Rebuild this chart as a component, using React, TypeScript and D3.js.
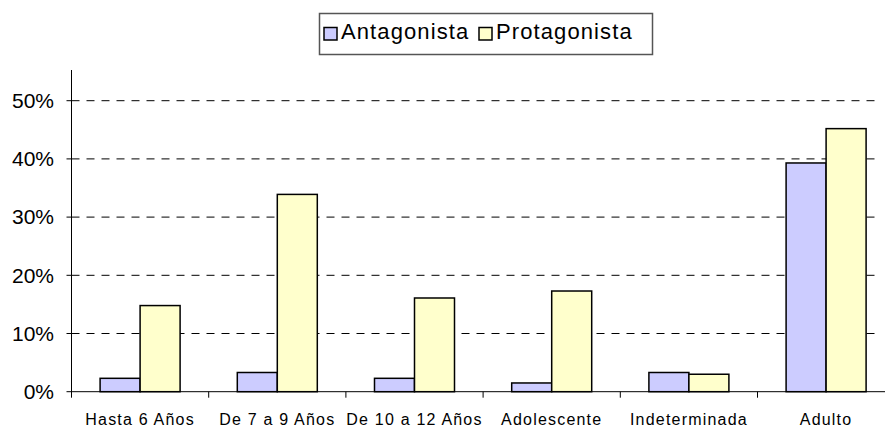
import React from 'react';
import * as d3 from 'd3';

const categories = ['Hasta 6 Años', 'De 7 a 9 Años', 'De 10 a 12 Años', 'Adolescente', 'Indeterminada', 'Adulto'];
const seriesNames = ['Antagonista', 'Protagonista'];
const antagonista = [2.3, 3.3, 2.3, 1.5, 3.3, 39.3];
const protagonista = [14.8, 33.9, 16.1, 17.3, 3.0, 45.2];
const yTicks = [0, 10, 20, 30, 40, 50];
const colors = ['#CCCCFF', '#FFFFCC'];

const W = 885;
const H = 427;
const left = 71.5;
const bottom = 391.7;
const font = 'Arial, "Liberation Sans", sans-serif';

const App = () => {
  const x = d3.scaleBand().domain(categories).range([left, left + 6 * 137.2]);
  const bw = x.bandwidth();
  const x1 = d3.scaleBand().domain(seriesNames).range([bw / 2 - 40, bw / 2 + 40]);
  const y = d3.scaleLinear().domain([0, 55]).range([bottom, 71.6]);
  const values = [antagonista, protagonista];

  return (
    <svg width={W} height={H} style={{ position: 'absolute', left: 0, top: 0, background: '#fff' }}>
      {/* grid */}
      {yTicks.filter(t => t > 0).map(t => (
        <line key={t} x1={left} x2={878} y1={y(t)} y2={y(t)} stroke="#000" strokeDasharray="8 7" strokeWidth={1} />
      ))}
      {/* bars */}
      {categories.map((c, i) => (
        <g key={c} transform={`translate(${x(c)},0)`}>
          {seriesNames.map((s, j) => (
            <rect key={s} x={x1(s)} y={y(values[j][i])} width={x1.bandwidth()} height={bottom - y(values[j][i])}
              fill={colors[j]} stroke="#000" strokeWidth={1.5} />
          ))}
        </g>
      ))}
      {/* y axis */}
      <line x1={left} x2={left} y1={70} y2={bottom + 5} stroke="#000" />
      {yTicks.map(t => (
        <g key={t}>
          <line x1={left - 5} x2={left} y1={y(t)} y2={y(t)} stroke="#000" />
          <text x={54} y={y(t)} dy="0.35em" textAnchor="end" fontFamily={font} fontSize={21}>{t}%</text>
        </g>
      ))}
      {/* x axis */}
      <line x1={left} x2={W} y1={bottom} y2={bottom} stroke="#000" />
      {categories.map(c => (
        <g key={c}>
          <line x1={x(c)!} x2={x(c)!} y1={bottom} y2={bottom + 6} stroke="#000" />
          <text x={x(c)! + bw / 2} y={425} textAnchor="middle" fontFamily={font} fontSize={16} letterSpacing={1.2}>{c}</text>
        </g>
      ))}
      {/* legend */}
      <rect x={319.5} y={13.5} width={333} height={41} fill="#fff" stroke="#555" strokeWidth={1.5} />
      {seriesNames.map((s, j) => {
        const lx = j === 0 ? 324 : 479;
        return (
          <g key={s}>
            <rect x={lx} y={27.5} width={13} height={12.5} fill={colors[j]} stroke="#000" strokeWidth={1.5} />
            <text x={lx + 17} y={39} fontFamily={font} fontSize={22} letterSpacing={1.1}>{s}</text>
          </g>
        );
      })}
    </svg>
  );
};

export default App;
